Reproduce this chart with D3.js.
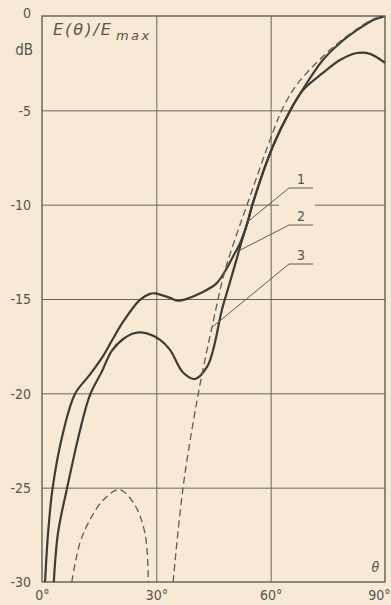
<!DOCTYPE html>
<html>
<head>
<meta charset="utf-8">
<script src="https://cdn.jsdelivr.net/npm/d3@7/dist/d3.min.js"></script>
<style>
  html, body { margin: 0; padding: 0; background: #f7e9d5; }
  svg { display: block; }
  text { font-family: "DejaVu Sans Condensed", "Liberation Sans Narrow", sans-serif; fill: #55554d; }
</style>
</head>
<body>
<script>
// Axis ticks
const thetaTicks = [0, 30, 60, 90];
const dbTicks = [0, -5, -10, -15, -20, -25, -30];

// Curve 1: shoulder near -15 dB, flattens to about -2 dB at broadside
const curve1Theta = [0.8, 1.6, 2.8, 5.5, 8.66, 12.6, 16.1, 18.5, 21.3, 25.7, 28.3, 29.7, 33.6, 35.7, 38.6, 41.5, 45.8, 48.5, 50.1, 52.0, 54.0, 55.1, 60.6, 65.2, 68.5, 73.7, 78.2, 82.7, 86.1, 90];
const curve1Db    = [-30, -27.4, -25.0, -22.1, -20.03, -19.0, -18.0, -17.15, -16.2, -15.05, -14.73, -14.7, -14.94, -15.09, -14.95, -14.7, -14.17, -13.37, -12.76, -12.03, -10.9, -10.07, -6.9, -4.98, -3.92, -3.02, -2.33, -1.96, -2.01, -2.49];

// Curve 2: side lobe near -17 dB, null near 40°, reaches 0 dB at 90°
const curve2Theta = [3.1, 4.2, 6.6, 10.0, 12.6, 15.7, 18.3, 21.3, 24.4, 27.5, 31.0, 33.6, 37.0, 40.1, 43.3, 44.9, 47.2, 48.9, 51.1, 52.8, 54.0, 55.1, 60.6, 65.2, 69.5, 73.7, 78.2, 82.7, 86.9, 90];
const curve2Db    = [-30, -27.4, -25.0, -21.94, -20.08, -18.85, -17.75, -17.12, -16.8, -16.82, -17.17, -17.7, -18.9, -19.24, -18.6, -17.7, -15.58, -14.4, -12.86, -11.67, -10.9, -10.07, -6.9, -4.98, -3.55, -2.33, -1.43, -0.74, -0.21, 0];

// Curve 3 (dashed): small lobe and main beam
const curve3LobeTheta = [7.8, 10.0, 12.6, 16.1, 20.2, 24.0, 27.0, 27.9];
const curve3LobeDb    = [-30, -27.9, -26.7, -25.65, -25.1, -25.8, -27.4, -30];
const curve3MainTheta = [34.4, 37.0, 40.7, 43.3, 44.6, 46.2, 48.0, 50.6, 53.7, 60.6, 63.2, 67.0, 73.7, 78.2, 82.7, 86.9, 90];
const curve3MainDb    = [-30, -25.0, -20.35, -17.7, -16.5, -15.0, -13.5, -11.85, -10.07, -6.15, -4.88, -3.6, -2.15, -1.35, -0.68, -0.16, 0];

const W = 391, H = 605;
const margin = { left: 42, top: 16, right: 6, bottom: 23 };
const innerW = W - margin.left - margin.right;
const innerH = H - margin.top - margin.bottom;
const paper = "#f7e9d5";

const x = d3.scaleLinear().domain([0, 90]).range([0, innerW]);
const y = d3.scaleLinear().domain([-30, 0]).range([innerH, 0]);

const svg = d3.select("body").append("svg").attr("width", W).attr("height", H);
const g = svg.append("g").attr("transform", `translate(${margin.left},${margin.top})`);

const ink = "#3d3d36";
const gridInk = "#66665e";

// Grid lines
const hGrid = g.append("g").call(
  d3.axisLeft(y).tickValues(dbTicks.filter(d => d !== 0 && d !== -30)).tickSize(-innerW).tickFormat("")
);
hGrid.select(".domain").remove();
hGrid.selectAll("line").attr("stroke", gridInk).attr("stroke-width", 1);

const vGrid = g.append("g").attr("transform", `translate(0,${innerH})`).call(
  d3.axisBottom(x).tickValues([30, 60]).tickSize(-innerH).tickFormat("")
);
vGrid.select(".domain").remove();
vGrid.selectAll("line").attr("stroke", gridInk).attr("stroke-width", 1);

// Break in the -10 dB line where curve label 1 sits
g.append("rect")
  .attr("x", 279 - margin.left).attr("y", y(-10) - 2)
  .attr("width", 36).attr("height", 4)
  .attr("fill", paper);

// Frame
g.append("rect").attr("x", 0).attr("y", 0).attr("width", innerW).attr("height", innerH)
  .attr("fill", "none").attr("stroke", "#55554d").attr("stroke-width", 1.3);

// Y tick labels
const yAxis = g.append("g").call(
  d3.axisLeft(y).tickValues(dbTicks).tickSize(0).tickPadding(11)
    .tickFormat(d => d === 0 ? "0" : "-" + Math.abs(d))
);
yAxis.select(".domain").remove();
yAxis.selectAll("text").style("font-size", "14px")
  .attr("dy", d => d === 0 ? "0.1em" : "0.35em");

g.append("text").attr("x", -9).attr("y", 39).attr("text-anchor", "end")
  .style("font-size", "15px").text("dB");

// X tick labels (the last one is kept inside the page edge)
const xAxis = g.append("g").attr("transform", `translate(0,${innerH})`).call(
  d3.axisBottom(x).tickValues(thetaTicks).tickSize(0).tickPadding(8)
    .tickFormat(d => d + "°")
);
xAxis.select(".domain").remove();
xAxis.selectAll("text").style("font-size", "14px")
  .attr("text-anchor", d => d === 90 ? "end" : "middle")
  .attr("dx", d => d === 90 ? 5 : 0);

g.append("text").attr("x", x(87.5)).attr("y", innerH - 10).attr("text-anchor", "middle")
  .style("font-size", "14px").style("font-style", "italic").text("θ");

// Axis title inside the frame
const title = g.append("text").attr("x", 11).attr("y", 19)
  .style("font-family", "'DejaVu Sans', sans-serif")
  .style("font-size", "16px").style("font-style", "italic").style("letter-spacing", "2px");
title.append("tspan").text("E(θ)/E");
title.append("tspan").attr("dx", 3).attr("dy", 5).style("font-size", "13px").style("letter-spacing", "2.5px").text("max");

// Curves
const clipId = "plotClip";
svg.append("defs").append("clipPath").attr("id", clipId)
  .append("rect").attr("x", 0).attr("y", 0).attr("width", innerW).attr("height", innerH);

const line = d3.line().x(d => x(d[0])).y(d => y(d[1])).curve(d3.curveCatmullRom.alpha(0.5));
const zip = (a, b) => a.map((v, i) => [v, b[i]]);

const curves = g.append("g").attr("clip-path", `url(#${clipId})`);
curves.append("path").datum(zip(curve1Theta, curve1Db)).attr("d", line)
  .attr("fill", "none").attr("stroke", ink).attr("stroke-width", 2.2).attr("stroke-linejoin", "round");
curves.append("path").datum(zip(curve2Theta, curve2Db)).attr("d", line)
  .attr("fill", "none").attr("stroke", ink).attr("stroke-width", 2.2).attr("stroke-linejoin", "round");
[zip(curve3LobeTheta, curve3LobeDb), zip(curve3MainTheta, curve3MainDb)].forEach(seg => {
  curves.append("path").datum(seg).attr("d", line)
    .attr("fill", "none").attr("stroke", "#5c5c54").attr("stroke-width", 1.3)
    .attr("stroke-dasharray", "7,4");
});

// Curve labels with leader lines
const labels = [
  { n: "1", theta: 54.0, db: -10.9, ty: 188 },
  { n: "2", theta: 51.6, db: -12.45, ty: 225 },
  { n: "3", theta: 44.6, db: -16.5, ty: 264 }
];
labels.forEach(l => {
  const lx = 289 - margin.left, ly = l.ty - margin.top;
  g.append("polyline")
    .attr("points", `${x(l.theta)},${y(l.db)} ${lx},${ly} ${lx + 24},${ly}`)
    .attr("fill", "none").attr("stroke", "#5c5c54").attr("stroke-width", 1);
  g.append("text").attr("x", lx + 12).attr("y", ly - 4).attr("text-anchor", "middle")
    .style("font-size", "14px").text(l.n);
});
</script>
</body>
</html>
